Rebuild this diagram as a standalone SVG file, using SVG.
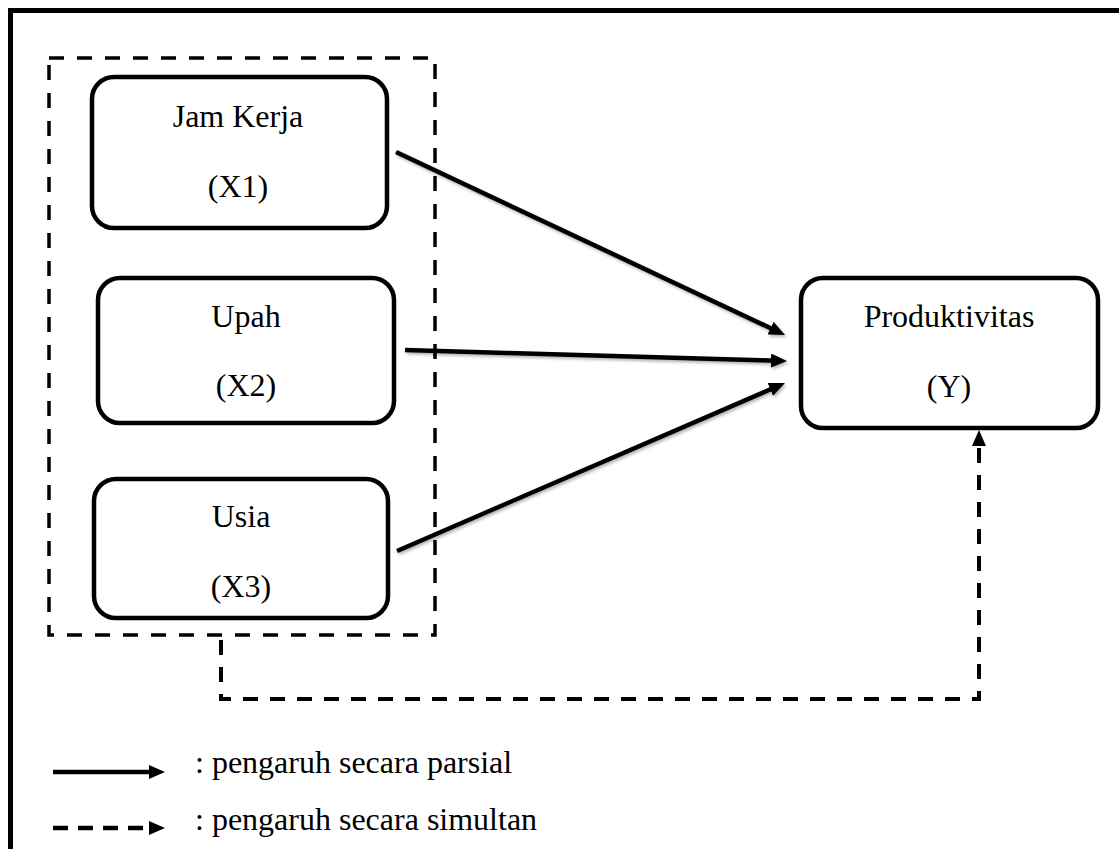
<svg xmlns="http://www.w3.org/2000/svg" width="1119" height="849" viewBox="0 0 1119 849">
<style>
.box{fill:#fff;stroke:#000;stroke-width:4.5}
.t{font-family:"Liberation Serif","Times New Roman",serif;font-size:32px;fill:#000;text-anchor:middle}
.lg{font-family:"Liberation Serif","Times New Roman",serif;font-size:32px;fill:#000}
.solid{fill:none;stroke:#000;stroke-width:4.5}
.dash{fill:none;stroke:#000;stroke-width:4;stroke-dasharray:15 12}
</style>
<defs>
<marker id="ah" viewBox="0 0 16 14" refX="6" refY="7" markerWidth="16" markerHeight="14" markerUnits="userSpaceOnUse" orient="auto">
<path d="M0,0 L16,7 L0,14 z" fill="#000"/>
</marker>
<filter id="sh" x="-5%" y="-5%" width="110%" height="120%">
<feDropShadow dx="1.5" dy="2" stdDeviation="1.5" flood-color="#000" flood-opacity="0.3"/>
</filter>
</defs>
<rect x="0" y="0" width="1119" height="849" fill="#fff"/>
<rect id="frame" x="10.5" y="10.5" width="1130" height="860" fill="none" stroke="#000" stroke-width="5"/>
<rect id="group-x" x="49" y="58" width="386" height="577" fill="none" stroke="#000" stroke-width="3.5" stroke-dasharray="15 13"/>
<g id="node-x1">
<rect class="box" x="92" y="77" width="295" height="151" rx="22"/>
<text class="t" x="238" y="127">Jam Kerja</text>
<text class="t" x="238" y="197">(X1)</text>
</g>
<g id="node-x2">
<rect class="box" x="98" y="278" width="296" height="145" rx="22"/>
<text class="t" x="246" y="327">Upah</text>
<text class="t" x="246" y="396">(X2)</text>
</g>
<g id="node-x3">
<rect class="box" x="94" y="479" width="294" height="139" rx="22"/>
<text class="t" x="241" y="527">Usia</text>
<text class="t" x="241" y="597">(X3)</text>
</g>
<g id="node-y">
<rect class="box" x="801" y="278" width="297" height="150" rx="22"/>
<text class="t" x="949" y="327">Produktivitas</text>
<text class="t" x="949" y="397">(Y)</text>
</g>
<g id="connectors">
<g filter="url(#sh)">
<line class="solid" x1="396" y1="152" x2="776" y2="330.7" marker-end="url(#ah)"/>
<line class="solid" x1="405" y1="350" x2="777" y2="360.7" marker-end="url(#ah)"/>
<line class="solid" x1="397" y1="551" x2="775.8" y2="387" marker-end="url(#ah)"/>
</g>
<path class="dash" d="M221,640 L221,699 L979,699 L979,440" marker-end="url(#ah)"/>
</g>
<g id="legend">
<line class="solid" x1="53" y1="772" x2="155" y2="772" marker-end="url(#ah)"/>
<text class="lg" x="195" y="773">: pengaruh secara parsial</text>
<line x1="53" y1="828" x2="155" y2="828" stroke="#000" stroke-width="4.5" stroke-dasharray="15 10" marker-end="url(#ah)"/>
<text class="lg" x="195" y="830">: pengaruh secara simultan</text>
</g>
</svg>
